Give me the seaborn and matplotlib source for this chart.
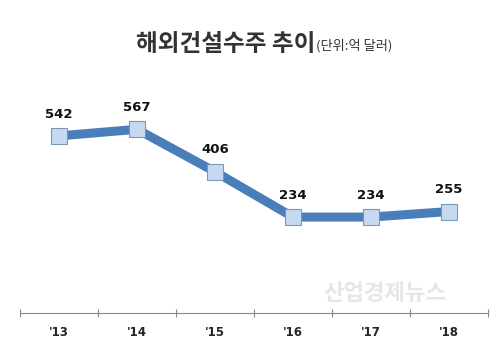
import numpy as np
import seaborn as sns
import matplotlib.pyplot as plt

sns.set_theme(style="white")
plt.rcParams['font.family'] = ['Noto Sans CJK KR', 'DejaVu Sans']

years = ["'13", "'14", "'15", "'16", "'17", "'18"]
orders = [542, 567, 406, 234, 234, 255]

fig = plt.figure(figsize=(4.99, 3.51), dpi=100)
ax = fig.add_axes([20 / 499, 1 - 313 / 351, 468 / 499, 253 / 351])

x = np.arange(len(years))
sns.lineplot(x=x, y=orders, ax=ax, color="#4a7ebb", linewidth=6.5,
             marker="s", markersize=11.5, markerfacecolor="#c6d9f1",
             markeredgecolor="#7f95b5", markeredgewidth=0.8)

for xi, v in zip(x, orders):
    ax.annotate(str(v), (xi, v), xytext=(0, 11), textcoords="offset points",
                ha="center", va="bottom", fontsize=9.5, fontweight="bold",
                family=['DejaVu Sans'], color="#111111")

ax.set_xlim(-0.5, len(years) - 0.5)
ax.set_ylim(-130, 830)
ax.set_xticks(x)
ax.set_xticklabels(years, fontsize=8.5, fontweight="bold", family=['DejaVu Sans'])
ax.set_xticks(np.arange(-0.5, len(years)), minor=True)
ax.tick_params(axis="x", which="major", length=0, pad=9)
ax.tick_params(axis="x", which="minor", length=6, direction="inout",
               color="#888888", width=0.8, bottom=True)
ax.set_yticks([])
for s in ["top", "left", "right"]:
    ax.spines[s].set_visible(False)
ax.spines["bottom"].set_color("#888888")
ax.spines["bottom"].set_linewidth(0.8)

fig.text(315 / 499, 1 - 44 / 351, "해외건설수주 추이", ha="right", va="center",
         fontsize=17, fontweight="bold", color="#333333")
fig.text(316 / 499, 1 - 46 / 351, "(단위:억 달러)", ha="left", va="center",
         fontsize=9.5, color="#333333")
fig.text(385 / 499, 1 - 294 / 351, "산업경제뉴스", ha="center", va="center",
         fontsize=16, fontweight="bold", color="#e6e6e6")

fig.savefig("out.png", dpi=100)
